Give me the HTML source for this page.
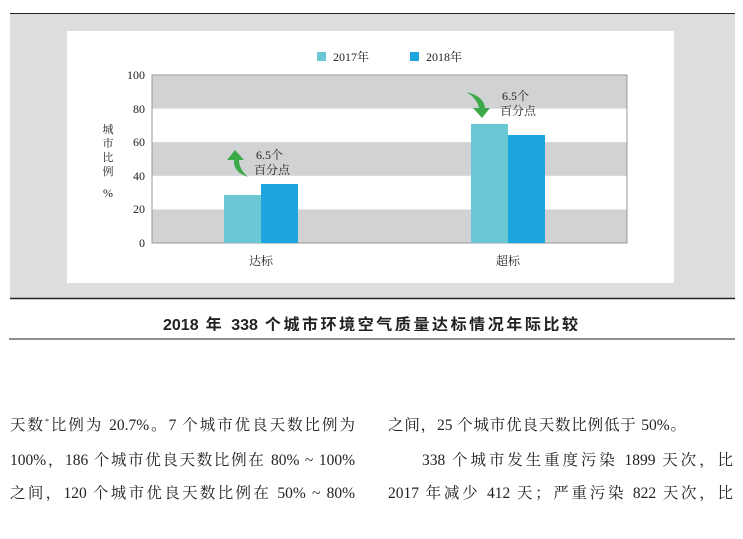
<!DOCTYPE html>
<html><head><meta charset="utf-8"><style>
body{margin:0;background:#fff;width:743px;height:539px;overflow:hidden;position:relative;font-family:"Liberation Serif","Noto Serif CJK SC",serif}
.t{position:absolute;font-size:15.5px;color:#222;white-space:nowrap}
.j{text-align:justify;text-align-last:justify;white-space:normal;height:20px;overflow:hidden}
</style></head><body>
<svg width="743" height="539" style="position:absolute;left:0;top:0">
<rect x="10" y="13" width="725" height="286" fill="#dcdddf"/>
<line x1="10" y1="13.5" x2="735" y2="13.5" stroke="#222" stroke-width="1"/>
<line x1="10" y1="298.5" x2="735" y2="298.5" stroke="#222" stroke-width="1.5"/>
<rect x="67" y="31" width="607" height="252" fill="#fff"/>
<rect x="152" y="75" width="475" height="33.6" fill="#d1d2d4"/>
<rect x="152" y="142.2" width="475" height="33.6" fill="#d1d2d4"/>
<rect x="152" y="209.4" width="475" height="33.6" fill="#d1d2d4"/>
<rect x="152" y="75" width="475" height="168" fill="none" stroke="#999" stroke-width="1"/>
<rect x="224" y="195" width="37" height="48" fill="#6ac8d5"/>
<rect x="261" y="184" width="37" height="59" fill="#1fa5dd"/>
<rect x="471" y="124" width="37" height="119" fill="#6ac8d5"/>
<rect x="508" y="135" width="37" height="108" fill="#1fa5dd"/>
<g font-family="Liberation Serif,Noto Serif CJK SC,serif" font-size="12" fill="#222">
<text x="145" y="79" text-anchor="end">100</text>
<text x="145" y="113" text-anchor="end">80</text>
<text x="145" y="146" text-anchor="end">60</text>
<text x="145" y="180" text-anchor="end">40</text>
<text x="145" y="213" text-anchor="end">20</text>
<text x="145" y="247" text-anchor="end">0</text>
<text x="108" y="133" text-anchor="middle" font-size="11">城</text>
<text x="108" y="147" text-anchor="middle" font-size="11">市</text>
<text x="108" y="161" text-anchor="middle" font-size="11">比</text>
<text x="108" y="175" text-anchor="middle" font-size="11">例</text>
<text x="108" y="197" text-anchor="middle" font-size="12">%</text>
<text x="261" y="265" text-anchor="middle">达标</text>
<text x="508" y="265" text-anchor="middle">超标</text>
<rect x="317" y="52" width="9" height="9" fill="#6ac8d5"/>
<text x="333" y="61" font-size="12">2017年</text>
<rect x="410" y="52" width="9" height="9" fill="#1fa5dd"/>
<text x="426" y="61" font-size="12">2018年</text>
<text x="256" y="159" font-size="12">6.5个</text>
<text x="254" y="174" font-size="12">百分点</text>
<text x="502" y="100" font-size="12">6.5个</text>
<text x="500" y="115" font-size="12">百分点</text>
</g>
<path d="M248,177 Q233,172 234,160 L227,160 L235,150 L244,160 L239,160 Q239,169 248,177 Z" fill="#3daa49"/>
<path d="M466,92 Q484,96 485,108 L490,108 L482,118 L473,108 L479,108 Q477,98 466,92 Z" fill="#3daa49"/>
<line x1="9" y1="339" x2="735" y2="339" stroke="#222" stroke-width="1"/>
</svg>
<div class="j" style="position:absolute;left:163px;width:415px;top:311px;font-family:'Liberation Sans','Noto Sans CJK SC',sans-serif;font-size:16px;font-weight:bold;color:#222">2018 年 338 个城市环境空气质量达标情况年际比较</div>
<div class="t j" style="left:10px;width:345px;top:413px">天数<sup style="font-size:8px">*</sup>比例为 20.7%。7 个城市优良天数比例为</div>
<div class="t j" style="left:10px;width:345px;top:448px">100%，186 个城市优良天数比例在 80% ~ 100%</div>
<div class="t j" style="left:10px;width:345px;top:481px">之间，120 个城市优良天数比例在 50% ~ 80%</div>
<div class="t j" style="left:388px;width:298px;top:413px">之间，25 个城市优良天数比例低于 50%。</div>
<div class="t j" style="left:422px;width:311px;top:448px">338 个城市发生重度污染 1899 天次，比</div>
<div class="t j" style="left:388px;width:345px;top:481px">2017 年减少 412 天；严重污染 822 天次，比</div>
</body></html>
